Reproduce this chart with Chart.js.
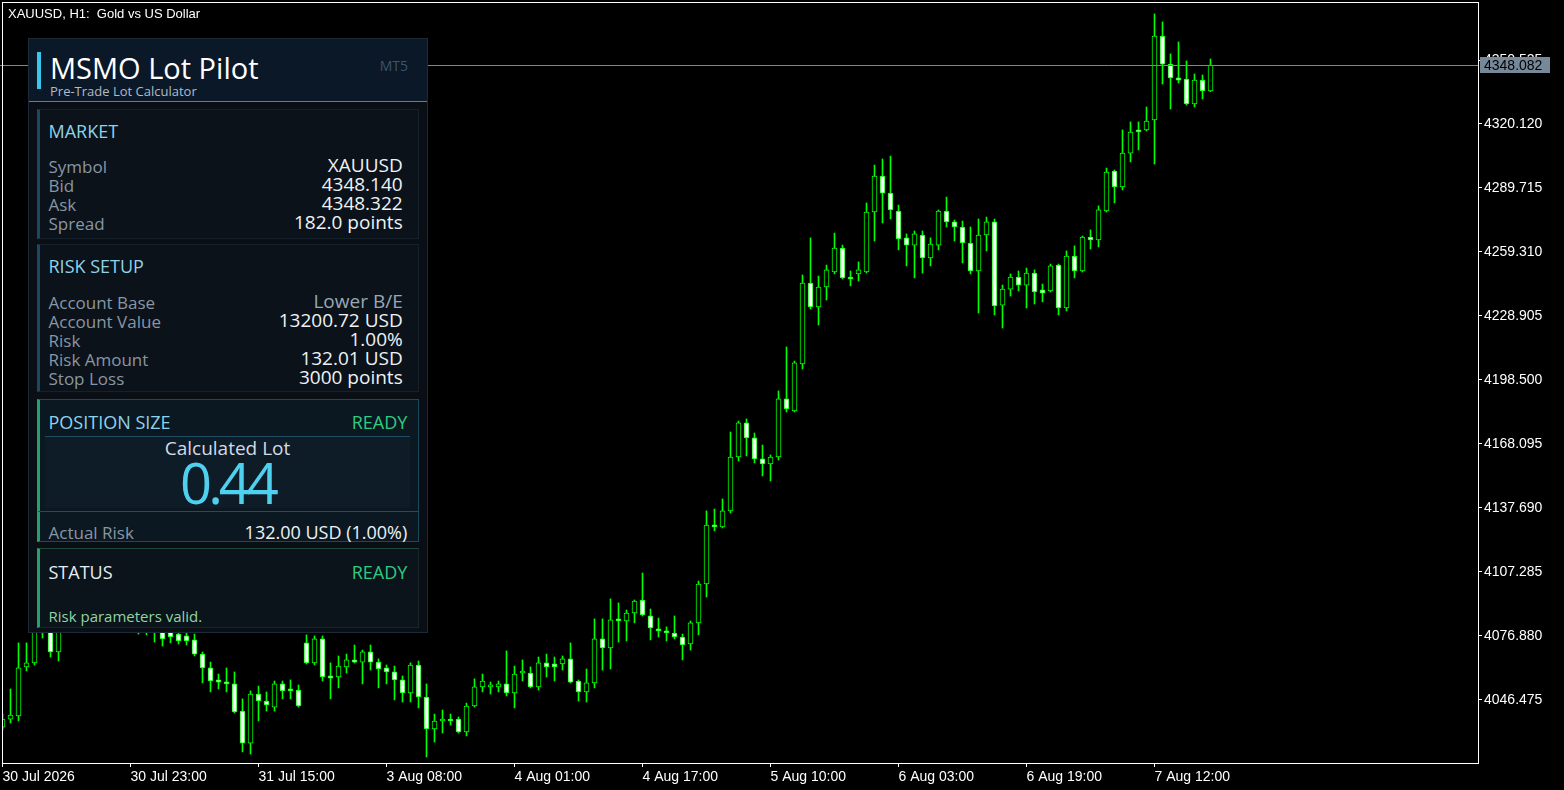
<!DOCTYPE html>
<html>
<head>
<meta charset="utf-8">
<script src="https://cdn.jsdelivr.net/npm/chart.js@4.4.0/dist/chart.umd.min.js"></script>
<style>
html, body { margin: 0; padding: 0; background: #000; width: 1564px; height: 790px; overflow: hidden; }
#wrap { position: relative; width: 1564px; height: 790px; }
#c { position: absolute; left: 0; top: 0; }
.t { position: absolute; white-space: pre; line-height: 1; font-family: "Open Sans", sans-serif; }
.box { position: absolute; box-sizing: border-box; }
.lbl { color: #8996a4; font-size: 17px; left: 48.5px; }
.val { color: #eef2f6; font-size: 19px; right: 1161.3px; }
.head { color: #8fd3ea; font-size: 18px; left: 48.5px; }
.ready { color: #2ecc80; font-size: 18px; right: 1156.7px; }
</style>
</head>
<body>
<div id="wrap">
  <canvas id="c" width="1564" height="790"></canvas>
  <div class="t" style="left:8px;top:7.3px;font-family:'Liberation Sans',sans-serif;font-size:13px;color:#fff;">XAUUSD, H1:  Gold vs US Dollar</div>

  <!-- lot pilot panel -->
  <div class="box" style="left:28px;top:38px;width:400px;height:595px;background:#0a0f16;border:1px solid #1c2a38;"></div>
  <div class="box" style="left:29px;top:39px;width:398px;height:63px;background:#0b1828;border-bottom:1px solid #2b93b8;"></div>
  <div class="box" style="left:37px;top:52px;width:4px;height:37px;background:#38c6ea;"></div>
  <div class="t" style="left:50px;top:52.5px;font-size:29px;color:#ffffff;">MSMO Lot Pilot</div>
  <div class="t" style="left:50px;top:84.8px;font-size:13px;color:#aebccb;">Pre-Trade Lot Calculator</div>
  <div class="t" style="right:1156px;top:59.3px;font-size:14px;color:#3b5568;">MT5</div>

  <div class="box" style="left:37px;top:109px;width:382px;height:130px;background:#0b121a;border:1px solid #16212c;border-left:3px solid #1b4a60;"></div>
  <div class="t head" style="top:122.3px;">MARKET</div>
  <div class="t lbl" style="top:158.2px;">Symbol</div>
  <div class="t val" style="top:156.4px;">XAUUSD</div>
  <div class="t lbl" style="top:177.2px;">Bid</div>
  <div class="t val" style="top:175.4px;">4348.140</div>
  <div class="t lbl" style="top:196.2px;">Ask</div>
  <div class="t val" style="top:194.4px;">4348.322</div>
  <div class="t lbl" style="top:215.2px;">Spread</div>
  <div class="t val" style="top:213.4px;">182.0 points</div>

  <div class="box" style="left:37px;top:244px;width:382px;height:148px;background:#0b121a;border:1px solid #16212c;border-left:3px solid #1b4a60;"></div>
  <div class="t head" style="top:257.3px;">RISK SETUP</div>
  <div class="t lbl" style="top:294.2px;">Account Base</div>
  <div class="t val" style="top:292.4px;color:#9aa8b6;">Lower B/E</div>
  <div class="t lbl" style="top:313.2px;">Account Value</div>
  <div class="t val" style="top:311.4px;">13200.72 USD</div>
  <div class="t lbl" style="top:332.2px;">Risk</div>
  <div class="t val" style="top:330.4px;">1.00%</div>
  <div class="t lbl" style="top:351.2px;">Risk Amount</div>
  <div class="t val" style="top:349.4px;">132.01 USD</div>
  <div class="t lbl" style="top:370.2px;">Stop Loss</div>
  <div class="t val" style="top:368.4px;">3000 points</div>

  <div class="box" style="left:37px;top:399px;width:382px;height:143px;background:#0b1822;border:1px solid #1b4a5e;border-left:3px solid #27a06c;"></div>
  <div class="t head" style="top:413px;">POSITION SIZE</div>
  <div class="t ready" style="top:413px;">READY</div>
  <div class="box" style="left:45px;top:436px;width:365px;height:72px;background:#0e1c28;border-top:1px solid #1f4d63;"></div>
  <div class="t" style="left:45px;width:365px;text-align:center;top:439.1px;font-size:19px;color:#d3dbe3;">Calculated Lot</div>
  <div class="t" style="left:45px;width:365px;text-align:center;top:453.6px;font-size:56px;letter-spacing:-4px;color:#4fd0ee;">0.44</div>
  <div class="box" style="left:38px;top:511px;width:381px;height:1px;background:#1f4d63;"></div>
  <div class="t lbl" style="top:524.2px;">Actual Risk</div>
  <div class="t val" style="top:523.3px;right:1156.7px;font-size:18px;">132.00 USD (1.00%)</div>

  <div class="box" style="left:37px;top:548px;width:382px;height:80px;background:#0b131b;border:1px solid #16262a;border-top:1px solid #1a4a3a;border-left:3px solid #27a06c;"></div>
  <div class="t" style="left:48.5px;top:563px;font-size:18px;color:#e6edf3;">STATUS</div>
  <div class="t ready" style="top:563px;">READY</div>
  <div class="t" style="left:48.5px;top:609.4px;font-size:15px;color:#8fd6a0;">Risk parameters valid.</div>
</div>
<script>
// XAUUSD H1 candles, oldest first (bar 0 = 30 Jul 07:00)
var opens = [
  4033.6, 4037.4, 4038.9, 4062.2, 4064.1, 4082.1, 4086.9, 4069.3, 4080.7, 4089.2,
  4085.4, 4094.0, 4091.1, 4096.4, 4089.2, 4084.5, 4088.3, 4083.5, 4079.7, 4080.7,
  4078.8, 4078.8, 4077.8, 4076.9, 4075.0, 4068.3, 4061.7, 4056.0, 4055.0, 4054.1,
  4041.2, 4026.0, 4049.3, 4046.0, 4043.1, 4054.1, 4051.7, 4051.2, 4073.6, 4064.1,
  4075.5, 4057.9, 4057.4, 4062.2, 4065.5, 4064.5, 4069.3, 4064.5, 4061.7, 4059.8,
  4056.0, 4049.8, 4063.1, 4047.9, 4032.7, 4036.5, 4037.4, 4037.4, 4031.3, 4043.6,
  4052.7, 4052.7, 4052.7, 4054.1, 4049.8, 4059.3, 4059.3, 4052.7, 4064.1, 4063.6,
  4063.6, 4066.0, 4055.5, 4050.3, 4054.6, 4075.5, 4071.2, 4085.0, 4084.0, 4087.8,
  4094.0, 4086.4, 4080.2, 4079.3, 4078.3, 4076.4, 4073.1, 4083.1, 4101.6, 4129.6,
  4128.7, 4136.3, 4161.9, 4178.1, 4171.0, 4161.0, 4158.6, 4161.9, 4189.5, 4183.8,
  4206.1, 4244.6, 4233.2, 4242.7, 4249.8, 4261.2, 4247.4, 4248.9, 4249.8, 4278.3,
  4295.4, 4287.3, 4278.8, 4266.0, 4262.6, 4267.4, 4256.5, 4262.6, 4278.8, 4273.6,
  4271.2, 4263.6, 4250.3, 4267.4, 4273.6, 4234.1, 4241.7, 4247.4, 4243.6, 4249.3,
  4241.3, 4240.8, 4253.1, 4232.7, 4257.4, 4250.3, 4266.4, 4265.0, 4278.8, 4297.8,
  4290.2, 4306.3, 4317.3, 4317.3, 4322.0, 4361.9, 4348.6, 4342.0, 4341.5, 4329.6,
  4341.0, 4335.8
];
var highs = [
  4039.8, 4051.7, 4073.6, 4073.6, 4086.9, 4091.6, 4089.2, 4084.5, 4092.6, 4094.0,
  4097.8, 4096.4, 4099.7, 4098.7, 4094.0, 4091.1, 4090.2, 4086.9, 4084.5, 4083.5,
  4082.1, 4081.6, 4080.7, 4079.7, 4077.8, 4069.3, 4064.5, 4058.8, 4061.7, 4059.8,
  4047.0, 4050.8, 4053.1, 4050.3, 4055.5, 4055.5, 4056.0, 4053.6, 4077.4, 4076.9,
  4076.9, 4064.1, 4067.4, 4068.3, 4072.6, 4070.2, 4072.6, 4066.0, 4063.1, 4062.6,
  4057.9, 4064.1, 4065.0, 4054.1, 4039.8, 4041.7, 4039.8, 4038.4, 4045.0, 4056.5,
  4058.8, 4055.0, 4055.5, 4069.8, 4062.6, 4065.5, 4062.2, 4066.9, 4068.3, 4066.9,
  4067.4, 4073.6, 4056.0, 4061.2, 4085.0, 4085.0, 4094.5, 4092.6, 4089.2, 4094.0,
  4106.8, 4089.7, 4085.4, 4081.2, 4086.4, 4077.8, 4084.0, 4103.0, 4136.3, 4137.2,
  4142.0, 4173.8, 4179.0, 4180.0, 4173.3, 4167.6, 4162.9, 4193.3, 4214.2, 4207.5,
  4248.4, 4266.0, 4247.9, 4253.1, 4268.3, 4262.6, 4250.3, 4254.6, 4282.6, 4300.6,
  4303.5, 4304.9, 4281.6, 4267.9, 4269.3, 4269.3, 4266.0, 4279.3, 4285.4, 4274.5,
  4274.0, 4271.2, 4275.0, 4275.9, 4275.0, 4243.6, 4248.9, 4250.3, 4251.7, 4250.8,
  4244.1, 4253.6, 4253.6, 4259.8, 4262.2, 4266.9, 4269.8, 4281.2, 4299.2, 4298.3,
  4317.3, 4321.1, 4321.1, 4328.2, 4372.4, 4368.6, 4353.4, 4359.1, 4350.1, 4343.9,
  4343.4, 4351.0
];
var lows = [
  4032.2, 4035.5, 4036.5, 4060.3, 4063.1, 4075.9, 4066.9, 4065.0, 4078.8, 4082.1,
  4083.5, 4086.9, 4088.3, 4085.4, 4081.6, 4079.7, 4080.7, 4077.8, 4077.4, 4074.0,
  4072.1, 4073.6, 4073.1, 4072.6, 4067.4, 4054.6, 4050.3, 4051.7, 4050.3, 4040.3,
  4021.8, 4020.8, 4036.5, 4041.2, 4041.2, 4047.0, 4047.0, 4043.1, 4063.6, 4063.1,
  4055.5, 4047.0, 4052.2, 4059.3, 4064.1, 4054.1, 4060.7, 4052.2, 4054.1, 4046.5,
  4045.5, 4045.5, 4042.7, 4019.4, 4026.5, 4030.8, 4034.6, 4030.8, 4029.4, 4043.1,
  4050.3, 4049.3, 4050.3, 4048.4, 4042.7, 4055.5, 4052.2, 4051.2, 4057.4, 4055.5,
  4060.7, 4054.6, 4046.0, 4045.5, 4052.2, 4060.7, 4061.2, 4074.0, 4074.5, 4083.1,
  4086.4, 4075.0, 4076.4, 4074.5, 4075.5, 4065.5, 4070.2, 4077.4, 4095.4, 4126.8,
  4128.2, 4135.3, 4160.0, 4162.4, 4159.1, 4152.9, 4150.5, 4160.5, 4183.3, 4183.3,
  4203.7, 4232.2, 4224.6, 4236.5, 4248.9, 4246.5, 4243.2, 4245.5, 4249.3, 4264.5,
  4273.1, 4275.0, 4260.3, 4252.7, 4247.0, 4249.3, 4252.7, 4260.3, 4271.2, 4264.5,
  4254.1, 4248.9, 4230.3, 4259.8, 4229.4, 4223.2, 4238.4, 4240.8, 4232.7, 4234.6,
  4235.6, 4240.3, 4229.4, 4231.3, 4247.0, 4249.8, 4260.7, 4261.7, 4278.3, 4282.6,
  4288.8, 4302.1, 4307.8, 4316.8, 4301.1, 4339.1, 4327.2, 4339.6, 4329.1, 4328.2,
  4332.0, 4335.5
];
var closes = [
  4037.4, 4039.3, 4061.7, 4064.1, 4082.1, 4086.9, 4069.3, 4080.7, 4089.2, 4085.4,
  4094.0, 4091.1, 4096.4, 4089.2, 4084.5, 4088.3, 4083.5, 4079.7, 4080.7, 4079.7,
  4075.5, 4076.4, 4074.5, 4074.5, 4068.3, 4061.7, 4055.5, 4055.0, 4054.1, 4040.8,
  4026.0, 4049.3, 4046.0, 4044.1, 4054.1, 4050.8, 4050.8, 4043.6, 4064.1, 4075.5,
  4057.4, 4056.9, 4062.6, 4065.5, 4064.5, 4069.3, 4064.5, 4061.2, 4059.8, 4056.0,
  4049.8, 4063.1, 4047.9, 4032.7, 4036.5, 4037.0, 4036.5, 4031.3, 4043.6, 4052.7,
  4055.5, 4053.6, 4054.1, 4049.8, 4058.8, 4059.5, 4052.7, 4064.1, 4062.2, 4062.2,
  4066.0, 4055.0, 4050.3, 4054.6, 4075.5, 4071.2, 4084.5, 4084.0, 4087.8, 4093.5,
  4086.9, 4080.7, 4079.3, 4078.3, 4076.4, 4072.6, 4083.1, 4101.6, 4129.6, 4128.7,
  4136.3, 4161.9, 4178.1, 4171.0, 4161.0, 4158.6, 4161.9, 4189.5, 4184.7, 4206.6,
  4244.6, 4233.2, 4242.7, 4250.8, 4261.2, 4247.0, 4246.5, 4250.8, 4278.3, 4295.4,
  4287.3, 4279.3, 4265.5, 4262.6, 4267.9, 4256.5, 4263.1, 4278.8, 4273.6, 4271.2,
  4263.6, 4250.3, 4267.4, 4273.6, 4233.7, 4241.7, 4247.4, 4243.6, 4249.3, 4240.3,
  4239.8, 4252.7, 4232.7, 4257.4, 4250.3, 4266.4, 4265.0, 4279.3, 4297.3, 4290.2,
  4306.3, 4316.3, 4316.3, 4321.5, 4361.9, 4348.6, 4342.0, 4341.0, 4329.6, 4341.0,
  4335.8, 4348.1
];

// time axis labels, one every 16 bars
var xTickLabels = ['30 Jul 2026', '30 Jul 23:00', '31 Jul 15:00', '3 Aug 08:00', '4 Aug 01:00',
                   '4 Aug 17:00', '5 Aug 10:00', '6 Aug 03:00', '6 Aug 19:00', '7 Aug 12:00'];
var tickEvery = 16;
var yTickValues = [4046.475, 4076.880, 4107.285, 4137.690, 4168.095, 4198.500,
                   4228.905, 4259.310, 4289.715, 4320.120, 4350.525];
var bidPrice = 4348.082;

var wickData = highs.map(function (h, i) { return { x: i, y: [lows[i], h] }; });
var bodyData = opens.map(function (o, i) { return { x: i, y: [o, closes[i]] }; });
var bodyFill = opens.map(function (o, i) { return closes[i] < o ? '#ffffff' : '#000000'; });

var mtFrame = {
    id: 'mtFrame',
    afterDatasetsDraw: function (chart) {
        var ctx = chart.ctx, a = chart.chartArea;
        var py = Math.round(chart.scales.y.getPixelForValue(bidPrice)) + 0.5;
        ctx.save();
        ctx.strokeStyle = '#778899';
        ctx.lineWidth = 1;
        ctx.beginPath();
        ctx.moveTo(0, py);
        ctx.lineTo(a.right, py);
        ctx.stroke();
        ctx.restore();
    },
    afterDraw: function (chart) {
        var ctx = chart.ctx, a = chart.chartArea;
        ctx.save();
        ctx.strokeStyle = '#ffffff';
        ctx.lineWidth = 1;
        ctx.strokeRect(a.left + 0.5, a.top + 0.5, a.right - a.left, a.bottom - a.top);
        // bid price tag on the price scale
        var py = Math.round(chart.scales.y.getPixelForValue(bidPrice));
        ctx.fillStyle = '#778899';
        ctx.fillRect(a.right + 2, py - 8, 70, 16);
        ctx.fillStyle = '#000000';
        ctx.font = '14px "Liberation Sans"';
        ctx.textBaseline = 'middle';
        ctx.fillText(bidPrice.toFixed(3), a.right + 6, py + 1);
        ctx.restore();
    }
};

Chart.defaults.font.family = '"Liberation Sans", sans-serif';
Chart.defaults.font.size = 14;
Chart.defaults.color = '#ffffff';

new Chart(document.getElementById('c'), {
    type: 'bar',
    data: {
        datasets: [{
            data: bodyData,
            backgroundColor: bodyFill,
            borderColor: '#00ff00',
            borderWidth: 1,
            borderSkipped: false,
            barThickness: 5,
            minBarLength: 2,
            grouped: false,
            order: 0
        }, {
            data: wickData,
            backgroundColor: '#00ff00',
            borderWidth: 0,
            barThickness: 1,
            grouped: false,
            order: 1
        }]
    },
    options: {
        responsive: false,
        animation: false,
        layout: { padding: { left: 2, top: 2, right: 0, bottom: 0 } },
        plugins: { legend: { display: false }, tooltip: { enabled: false } },
        scales: {
            x: {
                type: 'linear',
                position: 'bottom',
                offset: false,
                grace: 0,
                min: -0.0625,
                max: 184.4375,
                grid: { offset: false, drawOnChartArea: false, drawTicks: true, tickLength: 4, color: '#ffffff' },
                border: { display: false },
                ticks: {
                    align: 'start',
                    autoSkip: false,
                    maxRotation: 0,
                    padding: 2,
                    color: '#ffffff',
                    callback: function (v) { return xTickLabels[Math.round(v / tickEvery)]; }
                },
                afterBuildTicks: function (scale) {
                    scale.ticks = xTickLabels.map(function (l, i) { return { value: i * tickEvery }; });
                },
                afterFit: function (scale) {
                    scale.height = 27;
                    scale.paddingLeft = 0;
                    scale.paddingRight = 0;
                }
            },
            y: {
                type: 'linear',
                position: 'right',
                min: 4016.54,
                max: 4378.08,
                grid: { drawOnChartArea: false, drawTicks: true, tickLength: 4, color: '#ffffff' },
                border: { display: false },
                ticks: {
                    padding: 2,
                    color: '#ffffff',
                    callback: function (v) { return v.toFixed(3); }
                },
                afterBuildTicks: function (scale) {
                    scale.ticks = yTickValues.map(function (v) { return { value: v }; });
                },
                afterFit: function (scale) {
                    scale.width = 86;
                    scale.paddingTop = 0;
                    scale.paddingBottom = 0;
                }
            }
        }
    },
    plugins: [mtFrame]
});
</script>
</body>
</html>
